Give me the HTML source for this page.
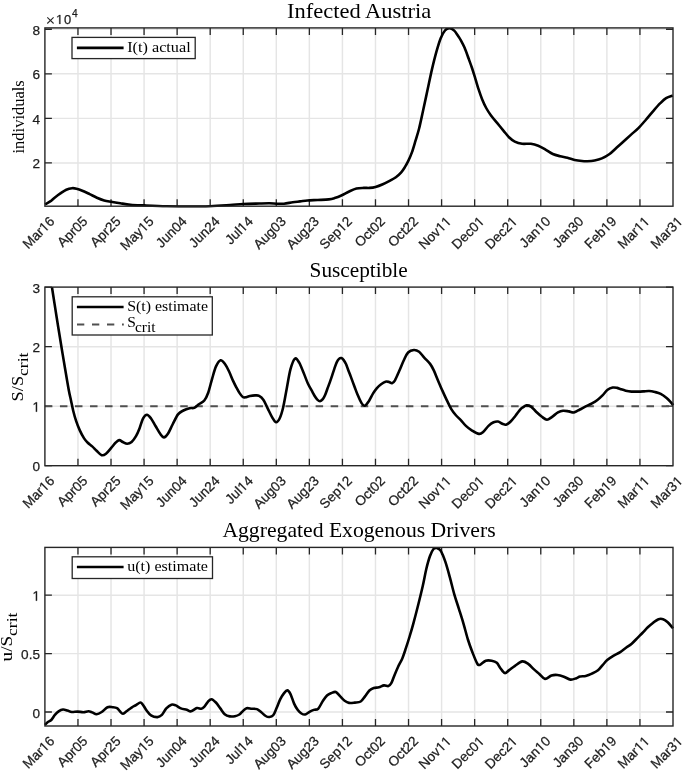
<!DOCTYPE html><html><head><meta charset="utf-8"><style>html,body{margin:0;padding:0;background:#fff;}svg{display:block;will-change:transform;}.tk{font-family:"Liberation Sans",sans-serif;font-size:13.6px;fill:#1c1c1c;stroke:#1c1c1c;stroke-width:0.25px;}.sf{font-family:"Liberation Serif",serif;fill:#000;}</style></head><body>
<svg width="685" height="774" viewBox="0 0 685 774">
<rect width="685" height="774" fill="#fff"/>
<clipPath id="cp0"><rect x="43.40" y="27.90" width="631.10" height="179.80"/></clipPath>
<path d="M77.96,27.90V206.20M111.02,27.90V206.20M144.07,27.90V206.20M177.13,27.90V206.20M210.19,27.90V206.20M243.25,27.90V206.20M276.31,27.90V206.20M309.36,27.90V206.20M342.42,27.90V206.20M375.48,27.90V206.20M408.54,27.90V206.20M441.59,27.90V206.20M474.65,27.90V206.20M507.71,27.90V206.20M540.77,27.90V206.20M573.83,27.90V206.20M606.88,27.90V206.20M639.94,27.90V206.20M44.90,162.90H673.00M44.90,118.35H673.00M44.90,73.80H673.00M44.90,29.25H673.00" stroke="#e5e5e5" stroke-width="1.45" fill="none"/>
<clipPath id="cp1"><rect x="43.40" y="287.10" width="631.10" height="180.10"/></clipPath>
<path d="M77.96,287.10V465.70M111.02,287.10V465.70M144.07,287.10V465.70M177.13,287.10V465.70M210.19,287.10V465.70M243.25,287.10V465.70M276.31,287.10V465.70M309.36,287.10V465.70M342.42,287.10V465.70M375.48,287.10V465.70M408.54,287.10V465.70M441.59,287.10V465.70M474.65,287.10V465.70M507.71,287.10V465.70M540.77,287.10V465.70M573.83,287.10V465.70M606.88,287.10V465.70M639.94,287.10V465.70M44.90,406.20H673.00M44.90,346.70H673.00" stroke="#e5e5e5" stroke-width="1.45" fill="none"/>
<clipPath id="cp2"><rect x="43.40" y="547.40" width="631.10" height="180.10"/></clipPath>
<path d="M77.96,547.40V726.00M111.02,547.40V726.00M144.07,547.40V726.00M177.13,547.40V726.00M210.19,547.40V726.00M243.25,547.40V726.00M276.31,547.40V726.00M309.36,547.40V726.00M342.42,547.40V726.00M375.48,547.40V726.00M408.54,547.40V726.00M441.59,547.40V726.00M474.65,547.40V726.00M507.71,547.40V726.00M540.77,547.40V726.00M573.83,547.40V726.00M606.88,547.40V726.00M639.94,547.40V726.00M44.90,712.00H673.00M44.90,653.60H673.00M44.90,595.20H673.00" stroke="#e5e5e5" stroke-width="1.45" fill="none"/>
<path d="M77.96,206.20V199.20M77.96,27.90V34.90M111.02,206.20V199.20M111.02,27.90V34.90M144.07,206.20V199.20M144.07,27.90V34.90M177.13,206.20V199.20M177.13,27.90V34.90M210.19,206.20V199.20M210.19,27.90V34.90M243.25,206.20V199.20M243.25,27.90V34.90M276.31,206.20V199.20M276.31,27.90V34.90M309.36,206.20V199.20M309.36,27.90V34.90M342.42,206.20V199.20M342.42,27.90V34.90M375.48,206.20V199.20M375.48,27.90V34.90M408.54,206.20V199.20M408.54,27.90V34.90M441.59,206.20V199.20M441.59,27.90V34.90M474.65,206.20V199.20M474.65,27.90V34.90M507.71,206.20V199.20M507.71,27.90V34.90M540.77,206.20V199.20M540.77,27.90V34.90M573.83,206.20V199.20M573.83,27.90V34.90M606.88,206.20V199.20M606.88,27.90V34.90M639.94,206.20V199.20M639.94,27.90V34.90M44.90,162.90H51.90M673.00,162.90H666.00M44.90,118.35H51.90M673.00,118.35H666.00M44.90,73.80H51.90M673.00,73.80H666.00M44.90,29.25H51.90M673.00,29.25H666.00" stroke="#262626" stroke-width="1.3" fill="none"/>
<g transform="translate(55.40,222.20) rotate(-45)"><text class="tk" text-anchor="end">Mar 6</text><path class="tk" d="M-11.71,0.00 L-10.51,0.00 L-10.51,-9.36 L-11.61,-9.36 L-13.82,-7.84 L-13.82,-6.71 L-11.71,-8.21Z"/></g>
<g transform="translate(88.46,222.20) rotate(-45)"><text class="tk" text-anchor="end">Apr05</text></g>
<g transform="translate(121.52,222.20) rotate(-45)"><text class="tk" text-anchor="end">Apr25</text></g>
<g transform="translate(154.57,222.20) rotate(-45)"><text class="tk" text-anchor="end">May 5</text><path class="tk" d="M-11.71,0.00 L-10.51,0.00 L-10.51,-9.36 L-11.61,-9.36 L-13.82,-7.84 L-13.82,-6.71 L-11.71,-8.21Z"/></g>
<g transform="translate(187.63,222.20) rotate(-45)"><text class="tk" text-anchor="end">Jun04</text></g>
<g transform="translate(220.69,222.20) rotate(-45)"><text class="tk" text-anchor="end">Jun24</text></g>
<g transform="translate(253.75,222.20) rotate(-45)"><text class="tk" text-anchor="end">Jul 4</text><path class="tk" d="M-11.71,0.00 L-10.51,0.00 L-10.51,-9.36 L-11.61,-9.36 L-13.82,-7.84 L-13.82,-6.71 L-11.71,-8.21Z"/></g>
<g transform="translate(286.81,222.20) rotate(-45)"><text class="tk" text-anchor="end">Aug03</text></g>
<g transform="translate(319.86,222.20) rotate(-45)"><text class="tk" text-anchor="end">Aug23</text></g>
<g transform="translate(352.92,222.20) rotate(-45)"><text class="tk" text-anchor="end">Sep 2</text><path class="tk" d="M-11.71,0.00 L-10.51,0.00 L-10.51,-9.36 L-11.61,-9.36 L-13.82,-7.84 L-13.82,-6.71 L-11.71,-8.21Z"/></g>
<g transform="translate(385.98,222.20) rotate(-45)"><text class="tk" text-anchor="end">Oct02</text></g>
<g transform="translate(419.04,222.20) rotate(-45)"><text class="tk" text-anchor="end">Oct22</text></g>
<g transform="translate(452.09,222.20) rotate(-45)"><text class="tk" text-anchor="end">Nov  </text><path class="tk" d="M-11.71,0.00 L-10.51,0.00 L-10.51,-9.36 L-11.61,-9.36 L-13.82,-7.84 L-13.82,-6.71 L-11.71,-8.21ZM-4.14,0.00 L-2.94,0.00 L-2.94,-9.36 L-4.04,-9.36 L-6.26,-7.84 L-6.26,-6.71 L-4.14,-8.21Z"/></g>
<g transform="translate(485.15,222.20) rotate(-45)"><text class="tk" text-anchor="end">Dec0 </text><path class="tk" d="M-4.14,0.00 L-2.94,0.00 L-2.94,-9.36 L-4.04,-9.36 L-6.26,-7.84 L-6.26,-6.71 L-4.14,-8.21Z"/></g>
<g transform="translate(518.21,222.20) rotate(-45)"><text class="tk" text-anchor="end">Dec2 </text><path class="tk" d="M-4.14,0.00 L-2.94,0.00 L-2.94,-9.36 L-4.04,-9.36 L-6.26,-7.84 L-6.26,-6.71 L-4.14,-8.21Z"/></g>
<g transform="translate(551.27,222.20) rotate(-45)"><text class="tk" text-anchor="end">Jan 0</text><path class="tk" d="M-11.71,0.00 L-10.51,0.00 L-10.51,-9.36 L-11.61,-9.36 L-13.82,-7.84 L-13.82,-6.71 L-11.71,-8.21Z"/></g>
<g transform="translate(584.33,222.20) rotate(-45)"><text class="tk" text-anchor="end">Jan30</text></g>
<g transform="translate(617.38,222.20) rotate(-45)"><text class="tk" text-anchor="end">Feb 9</text><path class="tk" d="M-11.71,0.00 L-10.51,0.00 L-10.51,-9.36 L-11.61,-9.36 L-13.82,-7.84 L-13.82,-6.71 L-11.71,-8.21Z"/></g>
<g transform="translate(650.44,222.20) rotate(-45)"><text class="tk" text-anchor="end">Mar  </text><path class="tk" d="M-11.71,0.00 L-10.51,0.00 L-10.51,-9.36 L-11.61,-9.36 L-13.82,-7.84 L-13.82,-6.71 L-11.71,-8.21ZM-4.14,0.00 L-2.94,0.00 L-2.94,-9.36 L-4.04,-9.36 L-6.26,-7.84 L-6.26,-6.71 L-4.14,-8.21Z"/></g>
<g transform="translate(683.50,222.20) rotate(-45)"><text class="tk" text-anchor="end">Mar3 </text><path class="tk" d="M-4.14,0.00 L-2.94,0.00 L-2.94,-9.36 L-4.04,-9.36 L-6.26,-7.84 L-6.26,-6.71 L-4.14,-8.21Z"/></g>
<g transform="translate(40.00,168.40)"><text class="tk" text-anchor="end">2</text></g>
<g transform="translate(40.00,123.85)"><text class="tk" text-anchor="end">4</text></g>
<g transform="translate(40.00,79.30)"><text class="tk" text-anchor="end">6</text></g>
<g transform="translate(40.00,34.75)"><text class="tk" text-anchor="end">8</text></g>
<path d="M77.96,465.70V458.70M77.96,287.10V294.10M111.02,465.70V458.70M111.02,287.10V294.10M144.07,465.70V458.70M144.07,287.10V294.10M177.13,465.70V458.70M177.13,287.10V294.10M210.19,465.70V458.70M210.19,287.10V294.10M243.25,465.70V458.70M243.25,287.10V294.10M276.31,465.70V458.70M276.31,287.10V294.10M309.36,465.70V458.70M309.36,287.10V294.10M342.42,465.70V458.70M342.42,287.10V294.10M375.48,465.70V458.70M375.48,287.10V294.10M408.54,465.70V458.70M408.54,287.10V294.10M441.59,465.70V458.70M441.59,287.10V294.10M474.65,465.70V458.70M474.65,287.10V294.10M507.71,465.70V458.70M507.71,287.10V294.10M540.77,465.70V458.70M540.77,287.10V294.10M573.83,465.70V458.70M573.83,287.10V294.10M606.88,465.70V458.70M606.88,287.10V294.10M639.94,465.70V458.70M639.94,287.10V294.10M44.90,465.70H51.90M673.00,465.70H666.00M44.90,406.20H51.90M673.00,406.20H666.00M44.90,346.70H51.90M673.00,346.70H666.00M44.90,287.20H51.90M673.00,287.20H666.00" stroke="#262626" stroke-width="1.3" fill="none"/>
<g transform="translate(55.40,481.70) rotate(-45)"><text class="tk" text-anchor="end">Mar 6</text><path class="tk" d="M-11.71,0.00 L-10.51,0.00 L-10.51,-9.36 L-11.61,-9.36 L-13.82,-7.84 L-13.82,-6.71 L-11.71,-8.21Z"/></g>
<g transform="translate(88.46,481.70) rotate(-45)"><text class="tk" text-anchor="end">Apr05</text></g>
<g transform="translate(121.52,481.70) rotate(-45)"><text class="tk" text-anchor="end">Apr25</text></g>
<g transform="translate(154.57,481.70) rotate(-45)"><text class="tk" text-anchor="end">May 5</text><path class="tk" d="M-11.71,0.00 L-10.51,0.00 L-10.51,-9.36 L-11.61,-9.36 L-13.82,-7.84 L-13.82,-6.71 L-11.71,-8.21Z"/></g>
<g transform="translate(187.63,481.70) rotate(-45)"><text class="tk" text-anchor="end">Jun04</text></g>
<g transform="translate(220.69,481.70) rotate(-45)"><text class="tk" text-anchor="end">Jun24</text></g>
<g transform="translate(253.75,481.70) rotate(-45)"><text class="tk" text-anchor="end">Jul 4</text><path class="tk" d="M-11.71,0.00 L-10.51,0.00 L-10.51,-9.36 L-11.61,-9.36 L-13.82,-7.84 L-13.82,-6.71 L-11.71,-8.21Z"/></g>
<g transform="translate(286.81,481.70) rotate(-45)"><text class="tk" text-anchor="end">Aug03</text></g>
<g transform="translate(319.86,481.70) rotate(-45)"><text class="tk" text-anchor="end">Aug23</text></g>
<g transform="translate(352.92,481.70) rotate(-45)"><text class="tk" text-anchor="end">Sep 2</text><path class="tk" d="M-11.71,0.00 L-10.51,0.00 L-10.51,-9.36 L-11.61,-9.36 L-13.82,-7.84 L-13.82,-6.71 L-11.71,-8.21Z"/></g>
<g transform="translate(385.98,481.70) rotate(-45)"><text class="tk" text-anchor="end">Oct02</text></g>
<g transform="translate(419.04,481.70) rotate(-45)"><text class="tk" text-anchor="end">Oct22</text></g>
<g transform="translate(452.09,481.70) rotate(-45)"><text class="tk" text-anchor="end">Nov  </text><path class="tk" d="M-11.71,0.00 L-10.51,0.00 L-10.51,-9.36 L-11.61,-9.36 L-13.82,-7.84 L-13.82,-6.71 L-11.71,-8.21ZM-4.14,0.00 L-2.94,0.00 L-2.94,-9.36 L-4.04,-9.36 L-6.26,-7.84 L-6.26,-6.71 L-4.14,-8.21Z"/></g>
<g transform="translate(485.15,481.70) rotate(-45)"><text class="tk" text-anchor="end">Dec0 </text><path class="tk" d="M-4.14,0.00 L-2.94,0.00 L-2.94,-9.36 L-4.04,-9.36 L-6.26,-7.84 L-6.26,-6.71 L-4.14,-8.21Z"/></g>
<g transform="translate(518.21,481.70) rotate(-45)"><text class="tk" text-anchor="end">Dec2 </text><path class="tk" d="M-4.14,0.00 L-2.94,0.00 L-2.94,-9.36 L-4.04,-9.36 L-6.26,-7.84 L-6.26,-6.71 L-4.14,-8.21Z"/></g>
<g transform="translate(551.27,481.70) rotate(-45)"><text class="tk" text-anchor="end">Jan 0</text><path class="tk" d="M-11.71,0.00 L-10.51,0.00 L-10.51,-9.36 L-11.61,-9.36 L-13.82,-7.84 L-13.82,-6.71 L-11.71,-8.21Z"/></g>
<g transform="translate(584.33,481.70) rotate(-45)"><text class="tk" text-anchor="end">Jan30</text></g>
<g transform="translate(617.38,481.70) rotate(-45)"><text class="tk" text-anchor="end">Feb 9</text><path class="tk" d="M-11.71,0.00 L-10.51,0.00 L-10.51,-9.36 L-11.61,-9.36 L-13.82,-7.84 L-13.82,-6.71 L-11.71,-8.21Z"/></g>
<g transform="translate(650.44,481.70) rotate(-45)"><text class="tk" text-anchor="end">Mar  </text><path class="tk" d="M-11.71,0.00 L-10.51,0.00 L-10.51,-9.36 L-11.61,-9.36 L-13.82,-7.84 L-13.82,-6.71 L-11.71,-8.21ZM-4.14,0.00 L-2.94,0.00 L-2.94,-9.36 L-4.04,-9.36 L-6.26,-7.84 L-6.26,-6.71 L-4.14,-8.21Z"/></g>
<g transform="translate(683.50,481.70) rotate(-45)"><text class="tk" text-anchor="end">Mar3 </text><path class="tk" d="M-4.14,0.00 L-2.94,0.00 L-2.94,-9.36 L-4.04,-9.36 L-6.26,-7.84 L-6.26,-6.71 L-4.14,-8.21Z"/></g>
<g transform="translate(40.00,471.20)"><text class="tk" text-anchor="end">0</text></g>
<g transform="translate(40.00,411.70)"><text class="tk" text-anchor="end"> </text><path class="tk" d="M-4.14,0.00 L-2.94,0.00 L-2.94,-9.36 L-4.04,-9.36 L-6.26,-7.84 L-6.26,-6.71 L-4.14,-8.21Z"/></g>
<g transform="translate(40.00,352.20)"><text class="tk" text-anchor="end">2</text></g>
<g transform="translate(40.00,292.70)"><text class="tk" text-anchor="end">3</text></g>
<path d="M77.96,726.00V719.00M77.96,547.40V554.40M111.02,726.00V719.00M111.02,547.40V554.40M144.07,726.00V719.00M144.07,547.40V554.40M177.13,726.00V719.00M177.13,547.40V554.40M210.19,726.00V719.00M210.19,547.40V554.40M243.25,726.00V719.00M243.25,547.40V554.40M276.31,726.00V719.00M276.31,547.40V554.40M309.36,726.00V719.00M309.36,547.40V554.40M342.42,726.00V719.00M342.42,547.40V554.40M375.48,726.00V719.00M375.48,547.40V554.40M408.54,726.00V719.00M408.54,547.40V554.40M441.59,726.00V719.00M441.59,547.40V554.40M474.65,726.00V719.00M474.65,547.40V554.40M507.71,726.00V719.00M507.71,547.40V554.40M540.77,726.00V719.00M540.77,547.40V554.40M573.83,726.00V719.00M573.83,547.40V554.40M606.88,726.00V719.00M606.88,547.40V554.40M639.94,726.00V719.00M639.94,547.40V554.40M44.90,712.00H51.90M673.00,712.00H666.00M44.90,653.60H51.90M673.00,653.60H666.00M44.90,595.20H51.90M673.00,595.20H666.00" stroke="#262626" stroke-width="1.3" fill="none"/>
<g transform="translate(55.40,742.00) rotate(-45)"><text class="tk" text-anchor="end">Mar 6</text><path class="tk" d="M-11.71,0.00 L-10.51,0.00 L-10.51,-9.36 L-11.61,-9.36 L-13.82,-7.84 L-13.82,-6.71 L-11.71,-8.21Z"/></g>
<g transform="translate(88.46,742.00) rotate(-45)"><text class="tk" text-anchor="end">Apr05</text></g>
<g transform="translate(121.52,742.00) rotate(-45)"><text class="tk" text-anchor="end">Apr25</text></g>
<g transform="translate(154.57,742.00) rotate(-45)"><text class="tk" text-anchor="end">May 5</text><path class="tk" d="M-11.71,0.00 L-10.51,0.00 L-10.51,-9.36 L-11.61,-9.36 L-13.82,-7.84 L-13.82,-6.71 L-11.71,-8.21Z"/></g>
<g transform="translate(187.63,742.00) rotate(-45)"><text class="tk" text-anchor="end">Jun04</text></g>
<g transform="translate(220.69,742.00) rotate(-45)"><text class="tk" text-anchor="end">Jun24</text></g>
<g transform="translate(253.75,742.00) rotate(-45)"><text class="tk" text-anchor="end">Jul 4</text><path class="tk" d="M-11.71,0.00 L-10.51,0.00 L-10.51,-9.36 L-11.61,-9.36 L-13.82,-7.84 L-13.82,-6.71 L-11.71,-8.21Z"/></g>
<g transform="translate(286.81,742.00) rotate(-45)"><text class="tk" text-anchor="end">Aug03</text></g>
<g transform="translate(319.86,742.00) rotate(-45)"><text class="tk" text-anchor="end">Aug23</text></g>
<g transform="translate(352.92,742.00) rotate(-45)"><text class="tk" text-anchor="end">Sep 2</text><path class="tk" d="M-11.71,0.00 L-10.51,0.00 L-10.51,-9.36 L-11.61,-9.36 L-13.82,-7.84 L-13.82,-6.71 L-11.71,-8.21Z"/></g>
<g transform="translate(385.98,742.00) rotate(-45)"><text class="tk" text-anchor="end">Oct02</text></g>
<g transform="translate(419.04,742.00) rotate(-45)"><text class="tk" text-anchor="end">Oct22</text></g>
<g transform="translate(452.09,742.00) rotate(-45)"><text class="tk" text-anchor="end">Nov  </text><path class="tk" d="M-11.71,0.00 L-10.51,0.00 L-10.51,-9.36 L-11.61,-9.36 L-13.82,-7.84 L-13.82,-6.71 L-11.71,-8.21ZM-4.14,0.00 L-2.94,0.00 L-2.94,-9.36 L-4.04,-9.36 L-6.26,-7.84 L-6.26,-6.71 L-4.14,-8.21Z"/></g>
<g transform="translate(485.15,742.00) rotate(-45)"><text class="tk" text-anchor="end">Dec0 </text><path class="tk" d="M-4.14,0.00 L-2.94,0.00 L-2.94,-9.36 L-4.04,-9.36 L-6.26,-7.84 L-6.26,-6.71 L-4.14,-8.21Z"/></g>
<g transform="translate(518.21,742.00) rotate(-45)"><text class="tk" text-anchor="end">Dec2 </text><path class="tk" d="M-4.14,0.00 L-2.94,0.00 L-2.94,-9.36 L-4.04,-9.36 L-6.26,-7.84 L-6.26,-6.71 L-4.14,-8.21Z"/></g>
<g transform="translate(551.27,742.00) rotate(-45)"><text class="tk" text-anchor="end">Jan 0</text><path class="tk" d="M-11.71,0.00 L-10.51,0.00 L-10.51,-9.36 L-11.61,-9.36 L-13.82,-7.84 L-13.82,-6.71 L-11.71,-8.21Z"/></g>
<g transform="translate(584.33,742.00) rotate(-45)"><text class="tk" text-anchor="end">Jan30</text></g>
<g transform="translate(617.38,742.00) rotate(-45)"><text class="tk" text-anchor="end">Feb 9</text><path class="tk" d="M-11.71,0.00 L-10.51,0.00 L-10.51,-9.36 L-11.61,-9.36 L-13.82,-7.84 L-13.82,-6.71 L-11.71,-8.21Z"/></g>
<g transform="translate(650.44,742.00) rotate(-45)"><text class="tk" text-anchor="end">Mar  </text><path class="tk" d="M-11.71,0.00 L-10.51,0.00 L-10.51,-9.36 L-11.61,-9.36 L-13.82,-7.84 L-13.82,-6.71 L-11.71,-8.21ZM-4.14,0.00 L-2.94,0.00 L-2.94,-9.36 L-4.04,-9.36 L-6.26,-7.84 L-6.26,-6.71 L-4.14,-8.21Z"/></g>
<g transform="translate(683.50,742.00) rotate(-45)"><text class="tk" text-anchor="end">Mar3 </text><path class="tk" d="M-4.14,0.00 L-2.94,0.00 L-2.94,-9.36 L-4.04,-9.36 L-6.26,-7.84 L-6.26,-6.71 L-4.14,-8.21Z"/></g>
<g transform="translate(40.00,717.50)"><text class="tk" text-anchor="end">0</text></g>
<g transform="translate(40.00,659.10)"><text class="tk" text-anchor="end">0.5</text></g>
<g transform="translate(40.00,600.70)"><text class="tk" text-anchor="end"> </text><path class="tk" d="M-4.14,0.00 L-2.94,0.00 L-2.94,-9.36 L-4.04,-9.36 L-6.26,-7.84 L-6.26,-6.71 L-4.14,-8.21Z"/></g>
<path d="M44.90,406.2H673.00" stroke="#505050" stroke-width="2" stroke-dasharray="7.5 7.54" fill="none"/>
<path d="M45.10,204.30 C45.95,203.82 48.62,202.50 50.20,201.40 C51.78,200.30 52.90,199.03 54.60,197.70 C56.30,196.37 58.45,194.73 60.40,193.40 C62.35,192.07 64.35,190.57 66.30,189.70 C68.25,188.83 70.40,188.37 72.10,188.20 C73.80,188.03 74.80,188.28 76.50,188.70 C78.20,189.12 80.12,189.80 82.30,190.70 C84.48,191.60 87.17,192.93 89.60,194.10 C92.03,195.27 94.47,196.65 96.90,197.70 C99.33,198.75 101.77,199.72 104.20,200.40 C106.63,201.08 108.82,201.32 111.50,201.80 C114.18,202.28 117.13,202.82 120.30,203.30 C123.47,203.78 126.45,204.35 130.50,204.70 C134.55,205.05 138.60,205.15 144.60,205.40 C150.60,205.65 159.20,206.02 166.50,206.20 C173.80,206.38 181.10,206.50 188.40,206.50 C195.70,206.50 203.37,206.45 210.30,206.20 C217.23,205.95 224.53,205.37 230.00,205.00 C235.47,204.63 238.23,204.25 243.10,204.00 C247.97,203.75 254.82,203.62 259.20,203.50 C263.58,203.38 266.48,203.27 269.40,203.30 C272.32,203.33 274.27,203.63 276.70,203.70 C279.13,203.77 281.32,203.95 284.00,203.70 C286.68,203.45 290.12,202.58 292.80,202.20 C295.48,201.82 297.67,201.68 300.10,201.40 C302.53,201.12 304.48,200.73 307.40,200.50 C310.32,200.27 314.03,200.18 317.60,200.00 C321.17,199.82 325.97,199.72 328.80,199.40 C331.63,199.08 332.42,198.80 334.60,198.10 C336.78,197.40 339.47,196.30 341.90,195.20 C344.33,194.10 346.77,192.60 349.20,191.50 C351.63,190.40 354.07,189.20 356.50,188.60 C358.93,188.00 361.62,188.02 363.80,187.90 C365.98,187.78 367.65,188.07 369.60,187.90 C371.55,187.73 373.30,187.52 375.50,186.90 C377.70,186.28 380.37,185.25 382.80,184.20 C385.23,183.15 387.92,181.77 390.10,180.60 C392.28,179.43 394.08,178.53 395.90,177.20 C397.72,175.87 399.53,174.23 401.00,172.60 C402.47,170.97 403.48,169.35 404.70,167.40 C405.92,165.45 407.08,163.45 408.30,160.90 C409.52,158.35 410.78,155.52 412.00,152.10 C413.22,148.68 414.42,144.33 415.60,140.40 C416.78,136.47 417.85,133.48 419.10,128.50 C420.35,123.52 421.70,116.90 423.10,110.50 C424.50,104.10 426.03,96.92 427.50,90.10 C428.97,83.28 430.43,75.93 431.90,69.60 C433.37,63.27 434.83,57.33 436.30,52.10 C437.77,46.87 439.25,41.80 440.70,38.20 C442.15,34.60 443.55,32.17 445.00,30.50 C446.45,28.83 447.87,28.18 449.40,28.20 C450.93,28.22 452.77,29.33 454.20,30.60 C455.63,31.87 456.97,34.32 458.00,35.80 C459.03,37.28 459.32,37.53 460.40,39.50 C461.48,41.47 463.13,44.43 464.50,47.60 C465.87,50.77 467.35,55.10 468.60,58.50 C469.85,61.90 470.87,64.62 472.00,68.00 C473.13,71.38 474.28,75.18 475.40,78.80 C476.52,82.42 477.58,86.30 478.70,89.70 C479.82,93.10 480.85,96.15 482.10,99.20 C483.35,102.25 484.72,105.28 486.20,108.00 C487.68,110.72 489.18,113.02 491.00,115.50 C492.82,117.98 495.00,120.35 497.10,122.90 C499.20,125.45 501.62,128.42 503.60,130.80 C505.58,133.18 507.13,135.40 509.00,137.20 C510.87,139.00 512.62,140.50 514.80,141.60 C516.98,142.70 519.42,143.43 522.10,143.80 C524.78,144.17 528.22,143.48 530.90,143.80 C533.58,144.12 535.77,144.73 538.20,145.70 C540.63,146.67 543.07,148.22 545.50,149.60 C547.93,150.98 550.37,152.90 552.80,154.00 C555.23,155.10 557.67,155.58 560.10,156.20 C562.53,156.82 564.97,157.08 567.40,157.70 C569.83,158.32 572.27,159.35 574.70,159.90 C577.13,160.45 579.90,160.78 582.00,161.00 C584.10,161.22 585.20,161.28 587.30,161.20 C589.40,161.12 592.17,160.97 594.60,160.50 C597.03,160.03 599.47,159.43 601.90,158.40 C604.33,157.37 606.77,156.07 609.20,154.30 C611.63,152.53 614.07,149.98 616.50,147.80 C618.93,145.62 621.37,143.40 623.80,141.20 C626.23,139.00 628.67,136.78 631.10,134.60 C633.53,132.42 635.97,130.53 638.40,128.10 C640.83,125.67 643.27,122.80 645.70,120.00 C648.13,117.20 650.57,114.10 653.00,111.30 C655.43,108.50 658.12,105.40 660.30,103.20 C662.48,101.00 664.03,99.38 666.10,98.10 C668.17,96.82 671.60,95.93 672.70,95.50" stroke="#000" stroke-width="2.6" fill="none" stroke-linejoin="round" clip-path="url(#cp0)"/>
<path d="M51.30,283.00 C51.85,286.52 53.48,296.98 54.60,304.10 C55.72,311.22 56.85,318.52 58.00,325.70 C59.15,332.88 60.32,340.03 61.50,347.20 C62.68,354.37 63.88,361.53 65.10,368.70 C66.32,375.87 67.82,384.92 68.80,390.20 C69.78,395.48 70.27,396.98 71.00,400.40 C71.73,403.82 72.35,407.28 73.20,410.70 C74.05,414.12 75.00,417.62 76.10,420.90 C77.20,424.18 78.47,427.48 79.80,430.40 C81.13,433.32 82.77,436.33 84.10,438.40 C85.43,440.47 86.45,441.47 87.80,442.80 C89.15,444.13 90.73,445.07 92.20,446.40 C93.67,447.73 95.02,449.33 96.60,450.80 C98.18,452.27 100.13,454.72 101.70,455.20 C103.27,455.68 104.42,454.92 106.00,453.70 C107.58,452.48 109.62,449.72 111.20,447.90 C112.78,446.08 114.17,444.10 115.50,442.80 C116.83,441.50 117.98,440.23 119.20,440.10 C120.42,439.97 121.47,441.38 122.80,442.00 C124.13,442.62 125.73,443.80 127.20,443.80 C128.67,443.80 130.13,443.27 131.60,442.00 C133.07,440.73 134.67,438.50 136.00,436.20 C137.33,433.90 138.42,431.18 139.60,428.20 C140.78,425.22 141.87,420.55 143.10,418.30 C144.33,416.05 145.70,414.70 147.00,414.70 C148.30,414.70 149.48,416.42 150.90,418.30 C152.32,420.18 153.95,423.42 155.50,426.00 C157.05,428.58 158.78,431.90 160.20,433.80 C161.62,435.70 162.72,437.40 164.00,437.40 C165.28,437.40 166.47,435.95 167.90,433.80 C169.33,431.65 170.92,427.73 172.60,424.50 C174.28,421.27 176.20,416.73 178.00,414.40 C179.80,412.07 181.47,411.53 183.40,410.50 C185.33,409.47 187.78,408.65 189.60,408.20 C191.42,407.75 192.75,408.45 194.30,407.80 C195.85,407.15 197.23,405.52 198.90,404.30 C200.57,403.08 202.75,402.43 204.30,400.50 C205.85,398.57 206.90,396.32 208.20,392.70 C209.50,389.08 210.80,383.18 212.10,378.80 C213.40,374.42 214.58,369.50 216.00,366.40 C217.42,363.30 219.05,360.52 220.60,360.20 C222.15,359.88 223.87,362.57 225.30,364.50 C226.73,366.43 227.90,369.07 229.20,371.80 C230.50,374.53 231.92,378.32 233.10,380.90 C234.28,383.48 235.22,385.27 236.30,387.30 C237.38,389.33 238.52,391.48 239.60,393.10 C240.68,394.72 241.83,396.30 242.80,397.00 C243.77,397.70 244.22,397.47 245.40,397.30 C246.58,397.13 248.30,396.32 249.90,396.00 C251.50,395.68 253.47,395.43 255.00,395.40 C256.53,395.37 257.68,395.05 259.10,395.80 C260.52,396.55 262.05,397.77 263.50,399.90 C264.95,402.03 266.35,405.68 267.80,408.60 C269.25,411.52 270.85,415.13 272.20,417.40 C273.55,419.67 274.68,421.97 275.90,422.20 C277.12,422.43 278.28,421.30 279.50,418.80 C280.72,416.30 281.98,412.30 283.20,407.20 C284.42,402.10 285.58,394.53 286.80,388.20 C288.02,381.87 289.15,374.12 290.50,369.20 C291.85,364.28 293.45,359.80 294.90,358.70 C296.35,357.60 297.75,360.25 299.20,362.60 C300.65,364.95 302.13,369.27 303.60,372.80 C305.07,376.33 306.53,380.63 308.00,383.80 C309.47,386.97 311.23,389.68 312.40,391.80 C313.57,393.92 314.18,395.20 315.00,396.50 C315.82,397.80 316.47,398.82 317.30,399.60 C318.13,400.38 319.08,401.27 320.00,401.20 C320.92,401.13 321.95,400.23 322.80,399.20 C323.65,398.17 324.33,396.73 325.10,395.00 C325.87,393.27 326.63,390.87 327.40,388.80 C328.17,386.73 328.92,384.80 329.70,382.60 C330.48,380.40 331.32,377.93 332.10,375.60 C332.88,373.27 333.63,370.80 334.40,368.60 C335.17,366.40 335.93,364.02 336.70,362.40 C337.47,360.78 338.22,359.62 339.00,358.90 C339.78,358.18 340.62,357.90 341.40,358.10 C342.18,358.30 342.93,359.12 343.70,360.10 C344.47,361.08 345.23,362.32 346.00,364.00 C346.77,365.68 347.52,368.13 348.30,370.20 C349.08,372.27 349.92,374.33 350.70,376.40 C351.48,378.47 352.28,380.67 353.00,382.60 C353.72,384.53 354.27,386.05 355.00,388.00 C355.73,389.95 356.33,391.82 357.40,394.30 C358.47,396.78 360.18,400.98 361.40,402.90 C362.62,404.82 363.48,406.05 364.70,405.80 C365.92,405.55 367.30,403.47 368.70,401.40 C370.10,399.33 371.77,395.58 373.10,393.40 C374.43,391.22 375.37,389.83 376.70,388.30 C378.03,386.77 379.63,385.30 381.10,384.20 C382.57,383.10 384.17,382.07 385.50,381.70 C386.83,381.33 388.02,381.75 389.10,382.00 C390.18,382.25 391.02,383.48 392.00,383.20 C392.98,382.92 393.78,382.37 395.00,380.30 C396.22,378.23 397.85,374.10 399.30,370.80 C400.75,367.50 402.23,363.55 403.70,360.50 C405.17,357.45 406.40,354.25 408.10,352.50 C409.80,350.75 412.07,350.12 413.90,350.00 C415.73,349.88 417.38,350.53 419.10,351.80 C420.82,353.07 422.37,355.58 424.20,357.60 C426.03,359.62 428.50,361.77 430.10,363.90 C431.70,366.03 432.47,367.60 433.80,370.40 C435.13,373.20 436.65,377.28 438.10,380.70 C439.55,384.12 441.03,387.62 442.50,390.90 C443.97,394.18 445.43,397.37 446.90,400.40 C448.37,403.43 449.83,406.67 451.30,409.10 C452.77,411.53 454.12,413.17 455.70,415.00 C457.28,416.83 459.10,418.28 460.80,420.10 C462.50,421.92 464.08,424.20 465.90,425.90 C467.72,427.60 469.52,428.97 471.70,430.30 C473.88,431.63 477.05,433.65 479.00,433.90 C480.95,434.15 481.82,433.13 483.40,431.80 C484.98,430.47 486.80,427.48 488.50,425.90 C490.20,424.32 492.02,423.03 493.60,422.30 C495.18,421.57 496.53,421.27 498.00,421.50 C499.47,421.73 501.07,423.17 502.40,423.70 C503.73,424.23 504.67,425.02 506.00,424.70 C507.33,424.38 508.82,423.30 510.40,421.80 C511.98,420.30 513.80,417.82 515.50,415.70 C517.20,413.58 519.37,410.50 520.60,409.10 C521.83,407.70 521.90,407.92 522.90,407.30 C523.90,406.68 525.25,405.52 526.60,405.40 C527.95,405.28 529.42,405.55 531.00,406.60 C532.58,407.65 534.28,410.00 536.10,411.70 C537.92,413.40 540.08,415.47 541.90,416.80 C543.72,418.13 545.30,419.70 547.00,419.70 C548.70,419.70 550.27,418.02 552.10,416.80 C553.93,415.58 556.17,413.42 558.00,412.40 C559.83,411.38 561.28,410.87 563.10,410.70 C564.92,410.53 567.08,411.12 568.90,411.40 C570.72,411.68 572.17,412.72 574.00,412.40 C575.83,412.08 577.95,410.52 579.90,409.50 C581.85,408.48 583.77,407.27 585.70,406.30 C587.63,405.33 589.55,404.75 591.50,403.70 C593.45,402.65 595.57,401.38 597.40,400.00 C599.23,398.62 600.80,397.10 602.50,395.40 C604.20,393.70 605.90,391.10 607.60,389.80 C609.30,388.50 611.12,387.92 612.70,387.60 C614.28,387.28 615.85,387.67 617.10,387.90 C618.35,388.13 618.77,388.53 620.20,389.00 C621.63,389.47 623.82,390.27 625.70,390.70 C627.58,391.13 629.55,391.45 631.50,391.60 C633.45,391.75 635.45,391.63 637.40,391.60 C639.35,391.57 641.25,391.50 643.20,391.40 C645.15,391.30 647.15,390.90 649.10,391.00 C651.05,391.10 652.97,391.52 654.90,392.00 C656.83,392.48 658.75,392.90 660.70,393.90 C662.65,394.90 664.93,396.63 666.60,398.00 C668.27,399.37 669.60,400.90 670.70,402.10 C671.80,403.30 672.78,404.68 673.20,405.20" stroke="#000" stroke-width="2.6" fill="none" stroke-linejoin="round" clip-path="url(#cp1)"/>
<path d="M44.90,725.00 C45.35,724.53 46.53,723.03 47.60,722.20 C48.67,721.37 50.08,721.22 51.30,720.00 C52.52,718.78 53.68,716.35 54.90,714.90 C56.12,713.45 57.25,712.20 58.60,711.30 C59.95,710.40 61.53,709.63 63.00,709.50 C64.47,709.37 65.95,710.08 67.40,710.50 C68.85,710.92 70.00,711.82 71.70,712.00 C73.40,712.18 75.65,711.57 77.60,711.60 C79.55,711.63 81.58,712.25 83.40,712.20 C85.22,712.15 87.03,711.27 88.50,711.30 C89.97,711.33 90.85,711.92 92.20,712.40 C93.55,712.88 95.02,714.27 96.60,714.20 C98.18,714.13 99.88,713.17 101.70,712.00 C103.52,710.83 105.68,708.00 107.50,707.20 C109.32,706.40 111.02,707.05 112.60,707.20 C114.18,707.35 115.78,707.42 117.00,708.10 C118.22,708.78 118.93,710.35 119.90,711.30 C120.87,712.25 121.70,713.80 122.80,713.80 C123.90,713.80 125.03,712.33 126.50,711.30 C127.97,710.27 130.02,708.63 131.60,707.60 C133.18,706.57 134.53,705.95 136.00,705.10 C137.47,704.25 139.25,702.57 140.40,702.50 C141.55,702.43 141.87,703.37 142.90,704.70 C143.93,706.03 145.25,708.72 146.60,710.50 C147.95,712.28 149.18,714.30 151.00,715.40 C152.82,716.50 155.68,717.18 157.50,717.10 C159.32,717.02 160.43,716.35 161.90,714.90 C163.37,713.45 164.72,710.10 166.30,708.40 C167.88,706.70 169.82,705.20 171.40,704.70 C172.98,704.20 174.22,704.78 175.80,705.40 C177.38,706.02 179.08,707.67 180.90,708.40 C182.72,709.13 185.00,709.32 186.70,709.80 C188.40,710.28 189.40,711.58 191.10,711.30 C192.80,711.02 195.20,708.52 196.90,708.10 C198.60,707.68 200.08,709.00 201.30,708.80 C202.52,708.60 203.10,708.07 204.20,706.90 C205.30,705.73 206.68,703.08 207.90,701.80 C209.12,700.52 210.17,699.08 211.50,699.20 C212.83,699.32 214.43,700.97 215.90,702.50 C217.37,704.03 218.83,706.45 220.30,708.40 C221.77,710.35 223.12,712.87 224.70,714.20 C226.28,715.53 228.10,716.07 229.80,716.40 C231.50,716.73 233.30,716.52 234.90,716.20 C236.50,715.88 238.05,715.38 239.40,714.50 C240.75,713.62 241.78,711.95 243.00,710.90 C244.22,709.85 245.23,708.57 246.70,708.20 C248.17,707.83 250.10,708.55 251.80,708.70 C253.50,708.85 255.32,708.50 256.90,709.10 C258.48,709.70 259.83,711.15 261.30,712.30 C262.77,713.45 264.37,715.22 265.70,716.00 C267.03,716.78 268.05,717.12 269.30,717.00 C270.55,716.88 271.98,716.80 273.20,715.30 C274.42,713.80 275.42,710.68 276.60,708.00 C277.78,705.32 279.08,701.63 280.30,699.20 C281.52,696.77 282.73,694.87 283.90,693.40 C285.07,691.93 286.20,690.28 287.30,690.40 C288.40,690.52 289.37,691.90 290.50,694.10 C291.63,696.30 292.88,700.93 294.10,703.60 C295.32,706.27 296.58,708.45 297.80,710.10 C299.02,711.75 300.18,712.77 301.40,713.50 C302.62,714.23 303.75,714.77 305.10,714.50 C306.45,714.23 308.05,712.67 309.50,711.90 C310.95,711.13 312.35,710.43 313.80,709.90 C315.25,709.37 316.73,710.12 318.20,708.70 C319.67,707.28 321.13,703.60 322.60,701.40 C324.07,699.20 325.53,696.88 327.00,695.50 C328.47,694.12 329.93,693.68 331.40,693.10 C332.87,692.52 334.33,691.45 335.80,692.00 C337.27,692.55 338.73,694.95 340.20,696.40 C341.67,697.85 343.13,699.62 344.60,700.70 C346.07,701.78 347.30,702.58 349.00,702.90 C350.70,703.22 352.85,702.83 354.80,702.60 C356.75,702.37 359.00,702.53 360.70,701.50 C362.40,700.47 363.55,698.23 365.00,696.40 C366.45,694.57 367.93,691.90 369.40,690.50 C370.87,689.10 372.22,688.53 373.80,688.00 C375.38,687.47 377.20,687.73 378.90,687.30 C380.60,686.87 382.42,685.60 384.00,685.40 C385.58,685.20 387.18,686.47 388.40,686.10 C389.62,685.73 390.33,684.90 391.30,683.20 C392.27,681.50 393.10,678.57 394.20,675.90 C395.30,673.23 396.55,670.12 397.90,667.20 C399.25,664.28 400.97,661.57 402.30,658.40 C403.63,655.23 404.68,651.85 405.90,648.20 C407.12,644.55 408.35,640.65 409.60,636.50 C410.85,632.35 411.98,628.52 413.40,623.30 C414.82,618.08 416.55,611.38 418.10,605.20 C419.65,599.02 421.33,592.23 422.70,586.20 C424.07,580.17 425.10,573.98 426.30,569.00 C427.50,564.02 428.70,559.63 429.90,556.30 C431.10,552.97 432.30,550.37 433.50,549.00 C434.70,547.63 435.88,547.78 437.10,548.10 C438.32,548.42 439.43,548.63 440.80,550.90 C442.17,553.17 443.80,557.33 445.30,561.70 C446.80,566.07 448.30,571.67 449.80,577.10 C451.30,582.53 452.78,589.02 454.30,594.30 C455.82,599.58 457.38,603.97 458.90,608.80 C460.42,613.63 461.90,618.18 463.40,623.30 C464.90,628.42 466.40,634.68 467.90,639.50 C469.40,644.32 470.88,648.27 472.40,652.20 C473.92,656.13 475.78,660.98 477.00,663.10 C478.22,665.22 478.23,665.30 479.70,664.90 C481.17,664.50 483.80,661.40 485.80,660.70 C487.80,660.00 489.87,660.35 491.70,660.70 C493.53,661.05 495.35,661.55 496.80,662.80 C498.25,664.05 499.07,666.48 500.40,668.20 C501.73,669.92 503.33,672.78 504.80,673.10 C506.27,673.42 507.50,671.32 509.20,670.10 C510.90,668.88 512.82,667.25 515.00,665.80 C517.18,664.35 520.10,661.72 522.30,661.40 C524.50,661.08 526.25,662.57 528.20,663.90 C530.15,665.23 532.18,667.75 534.00,669.40 C535.82,671.05 537.27,672.22 539.10,673.80 C540.93,675.38 542.93,678.62 545.00,678.90 C547.07,679.18 549.43,676.15 551.50,675.50 C553.57,674.85 555.33,674.80 557.40,675.00 C559.47,675.20 561.72,675.93 563.90,676.70 C566.08,677.47 568.42,679.35 570.50,679.60 C572.58,679.85 574.82,678.70 576.40,678.20 C577.98,677.70 578.45,676.98 580.00,676.60 C581.55,676.22 583.72,676.40 585.70,675.90 C587.68,675.40 589.85,674.55 591.90,673.60 C593.95,672.65 596.22,671.62 598.00,670.20 C599.78,668.78 601.07,666.78 602.60,665.10 C604.13,663.42 605.42,661.63 607.20,660.10 C608.98,658.57 611.13,657.23 613.30,655.90 C615.47,654.57 618.03,653.50 620.20,652.10 C622.37,650.70 624.38,648.90 626.30,647.50 C628.22,646.10 629.78,645.35 631.70,643.70 C633.62,642.05 636.02,639.38 637.80,637.60 C639.58,635.82 640.73,634.72 642.40,633.00 C644.07,631.28 646.00,629.02 647.80,627.30 C649.60,625.58 651.42,624.05 653.20,622.70 C654.98,621.35 656.85,619.78 658.50,619.20 C660.15,618.62 661.57,618.70 663.10,619.20 C664.63,619.70 666.03,620.67 667.70,622.20 C669.37,623.73 672.20,627.37 673.10,628.40" stroke="#000" stroke-width="2.6" fill="none" stroke-linejoin="round" clip-path="url(#cp2)"/>
<rect x="44.90" y="27.90" width="628.10" height="178.30" fill="none" stroke="#262626" stroke-width="1.4"/>
<rect x="44.90" y="287.10" width="628.10" height="178.60" fill="none" stroke="#262626" stroke-width="1.4"/>
<rect x="44.90" y="547.40" width="628.10" height="178.60" fill="none" stroke="#262626" stroke-width="1.4"/>
<path d="M47.3,17.4L53.6,23.5M53.6,17.4L47.3,23.5" stroke="#262626" stroke-width="1.05" fill="none"/>
<text class="tk" x="64.0" y="23.9" style="font-size:12.9px">0</text><path class="tk" transform="translate(56.0,23.9)" d="M3.24,0.00 L4.38,0.00 L4.38,-8.88 L3.34,-8.88 L1.24,-7.43 L1.24,-6.36 L3.24,-7.79Z"/><text class="tk" x="71.9" y="16.9" style="font-size:10.2px">4</text>
<text class="sf" x="287.0" y="17.6" font-size="21" textLength="144.2" lengthAdjust="spacingAndGlyphs">Infected Austria</text>
<text class="sf" x="309.6" y="276.8" font-size="21" textLength="98.1" lengthAdjust="spacingAndGlyphs">Susceptible</text>
<text class="sf" x="222.4" y="536.8" font-size="21" textLength="273.2" lengthAdjust="spacingAndGlyphs">Aggregated Exogenous Drivers</text>
<text class="sf" font-size="16.5" transform="translate(23.6,153.5) rotate(-90)" textLength="73.3" lengthAdjust="spacingAndGlyphs">individuals</text>
<text class="sf" font-size="17.5" transform="translate(23.4,401.4) rotate(-90)" textLength="25.6" lengthAdjust="spacingAndGlyphs">S/S</text>
<text class="sf" font-size="15.5" transform="translate(28.4,375.9) rotate(-90)" textLength="23.3" lengthAdjust="spacingAndGlyphs">crit</text>
<text class="sf" font-size="17.5" transform="translate(12.2,661.4) rotate(-90)" textLength="25.6" lengthAdjust="spacingAndGlyphs">u/S</text>
<text class="sf" font-size="15.5" transform="translate(17.4,635.9) rotate(-90)" textLength="23.3" lengthAdjust="spacingAndGlyphs">crit</text>
<rect x="72.00" y="37.40" width="123.20" height="21.20" fill="#fff" stroke="#262626" stroke-width="1.3"/>
<path d="M76.9,47.90H123.6" stroke="#000" stroke-width="2.6"/>
<text class="sf" x="127.2" y="47.90" font-size="15.5" dy="3.8" textLength="63.5" lengthAdjust="spacingAndGlyphs">I(t) actual</text>
<rect x="72.20" y="296.80" width="140.10" height="38.20" fill="#fff" stroke="#262626" stroke-width="1.3"/>
<path d="M76.9,307.00H123.6" stroke="#000" stroke-width="2.6"/>
<text class="sf" x="127.2" y="307.00" font-size="15.5" dy="3.8" textLength="80.8" lengthAdjust="spacingAndGlyphs">S(t) estimate</text>
<path d="M77.0,324.50H123.8" stroke="#505050" stroke-width="2" stroke-dasharray="7.3 7.7"/>
<text class="sf" x="127.2" y="324.50" font-size="15.5" dy="2.7">S</text><text class="sf" x="135.0" y="331.9" font-size="13.6" textLength="20.6" lengthAdjust="spacingAndGlyphs">crit</text>
<rect x="72.20" y="556.80" width="140.30" height="21.70" fill="#fff" stroke="#262626" stroke-width="1.3"/>
<path d="M76.9,567.00H123.6" stroke="#000" stroke-width="2.6"/>
<text class="sf" x="127.2" y="567.00" font-size="15.5" dy="3.8" textLength="80.8" lengthAdjust="spacingAndGlyphs">u(t) estimate</text>
</svg></body></html>
